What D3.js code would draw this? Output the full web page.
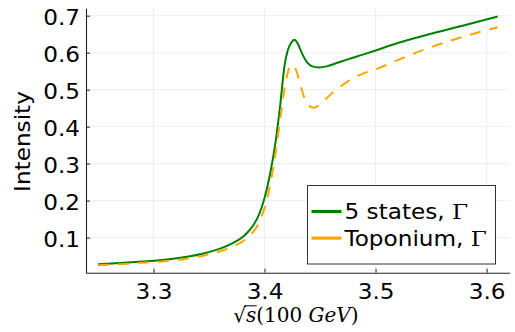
<!DOCTYPE html>
<html>
<head>
<meta charset="utf-8">
<script src="https://cdn.jsdelivr.net/npm/d3@7"></script>
<style>
  body { margin: 0; background: #fff; }
  svg text { font-family: "DejaVu Sans", sans-serif; fill: #000; }
  .grid line { stroke: #000; stroke-opacity: 0.09; stroke-width: 0.8; }
</style>
</head>
<body>
<div id="chart"></div>
<script>
// sqrt(s) in units of 100 GeV
const greenX = [3.25, 3.27, 3.29, 3.31, 3.33, 3.345, 3.36, 3.37, 3.38, 3.385, 3.39, 3.395, 3.40, 3.405,
    3.41, 3.414, 3.418, 3.421, 3.424, 3.427, 3.430, 3.434, 3.438, 3.443, 3.449, 3.456, 3.465, 3.475,
    3.49, 3.50, 3.52, 3.55, 3.58, 3.61];
const greenY = [0.028, 0.031, 0.035, 0.040, 0.048, 0.057, 0.070, 0.083, 0.101, 0.115, 0.134, 0.162, 0.207, 0.272,
    0.36, 0.455, 0.565, 0.607, 0.627, 0.635, 0.624, 0.596, 0.575, 0.563, 0.560, 0.563, 0.572, 0.582,
    0.596, 0.606, 0.626, 0.651, 0.674, 0.698];

const orangeX = [3.25, 3.27, 3.29, 3.31, 3.33, 3.345, 3.36, 3.37, 3.38, 3.385, 3.39, 3.395, 3.40, 3.405,
    3.41, 3.415, 3.419, 3.422, 3.425, 3.428, 3.431, 3.435, 3.439, 3.444, 3.449, 3.455, 3.462, 3.47,
    3.48, 3.49, 3.50, 3.52, 3.55, 3.58, 3.61];
const orangeY = [0.025, 0.028, 0.032, 0.036, 0.043, 0.051, 0.063, 0.074, 0.089, 0.100, 0.116, 0.140, 0.180, 0.242,
    0.33, 0.44, 0.52, 0.556, 0.567, 0.556, 0.528, 0.485, 0.460, 0.451, 0.457, 0.474, 0.494, 0.512,
    0.532, 0.545, 0.555, 0.580, 0.615, 0.644, 0.669];

const xTicks = [3.3, 3.4, 3.5, 3.6];
const yTicks = [0.1, 0.2, 0.3, 0.4, 0.5, 0.6, 0.7];
const seriesNames = ["5 states, ", "Toponium, "];
const seriesColors = ["#008000", "#ffa500"];

const width = 515, height = 332;
const margin = { left: 86, right: 5.3, top: 8.3, bottom: 59.3 };
const stretchK = 1.13;  // reference glyphs are wider than DejaVu at the same height

const svg = d3.select('#chart').append('svg')
    .attr('width', width)
    .attr('height', height);

const x = d3.scaleLinear()
    .domain([3.2392, 3.6208])
    .range([margin.left, width - margin.right]);
const y = d3.scaleLinear()
    .domain([0.005, 0.72])
    .range([height - margin.bottom, margin.top]);

function stretch(sel) {
    sel.each(function() {
        const t = d3.select(this);
        const x0 = +t.attr('x') || 0;
        t.attr('x', x0 / stretchK).attr('transform', `scale(${stretchK},1)`);
    });
}

// grid
const grid = svg.append('g').attr('class', 'grid');
grid.selectAll('line.gx').data(xTicks).enter().append('line')
    .attr('class', 'gx')
    .attr('x1', d => x(d)).attr('x2', d => x(d))
    .attr('y1', y.range()[0]).attr('y2', y.range()[1]);
grid.selectAll('line.gy').data(yTicks).enter().append('line')
    .attr('class', 'gy')
    .attr('x1', x.range()[0]).attr('x2', x.range()[1])
    .attr('y1', d => y(d)).attr('y2', d => y(d));

// axes (ticks pointing inward, like Plots.jl)
const xAxis = svg.append('g')
    .attr('transform', `translate(0,${y.range()[0]})`)
    .call(d3.axisBottom(x).tickValues(xTicks).tickSizeInner(-4).tickSizeOuter(0).tickPadding(12)
        .tickFormat(d3.format('.1f')));
const yAxis = svg.append('g')
    .attr('transform', `translate(${x.range()[0]},0)`)
    .call(d3.axisLeft(y).tickValues(yTicks).tickSizeInner(-4).tickSizeOuter(0).tickPadding(6)
        .tickFormat(d3.format('.1f')));

[xAxis, yAxis].forEach(a => {
    a.select('.domain').attr('stroke', '#222').attr('stroke-width', 1.1);
    a.selectAll('.tick line').attr('stroke', '#222').attr('stroke-width', 1);
    a.selectAll('.tick text').style('font-size', '20.5px').attr('fill', '#000').call(stretch);
});
xAxis.selectAll('.tick text').attr('dy', '0.71em');
yAxis.selectAll('.tick text').attr('dy', '0.45em');

// axis labels
svg.append('text')
    .attr('transform', `translate(30,${(y.range()[0] + y.range()[1]) / 2 + 1}) rotate(-90) scale(${stretchK},1)`)
    .attr('text-anchor', 'middle')
    .style('font-size', '20.5px')
    .text('Intensity');

const xl = svg.append('text')
    .attr('x', (x.range()[0] + x.range()[1]) / 2 - 2)
    .attr('y', 322)
    .attr('text-anchor', 'middle')
    .style('font-family', '"DejaVu Serif", serif')
    .style('font-size', '20px');
xl.append('tspan').text('√');
xl.append('tspan').style('font-style', 'italic').text('s');
xl.append('tspan').text('(100 ');
xl.append('tspan').style('font-style', 'italic').text('GeV');
xl.append('tspan').text(')');

// vinculum over the s
const rootBox = xl.node().getExtentOfChar(0);
const sBox = xl.node().getExtentOfChar(1);
svg.append('line')
    .attr('x1', rootBox.x + rootBox.width - 1.5)
    .attr('x2', sBox.x + sBox.width + 0.5)
    .attr('y1', 322 - 16.2).attr('y2', 322 - 16.2)
    .attr('stroke', '#000')
    .attr('stroke-width', 1);

// curves
const line = d3.line()
    .x(d => x(d[0]))
    .y(d => y(d[1]))
    .curve(d3.curveMonotoneX);

svg.append('path')
    .datum(greenX.map((v, i) => [v, greenY[i]]))
    .attr('fill', 'none')
    .attr('stroke', seriesColors[0])
    .attr('stroke-width', 2)
    .attr('d', line);

svg.append('path')
    .datum(orangeX.map((v, i) => [v, orangeY[i]]))
    .attr('fill', 'none')
    .attr('stroke', seriesColors[1])
    .attr('stroke-width', 2)
    .attr('stroke-dasharray', '11,9')
    .attr('d', line);

// legend
const legend = svg.append('g').attr('transform', 'translate(307.5,185.5)');
legend.append('rect')
    .attr('width', 188).attr('height', 78.5)
    .attr('fill', '#fff')
    .attr('stroke', '#333')
    .attr('stroke-width', 1);

seriesNames.forEach((name, i) => {
    const row = legend.append('g').attr('transform', `translate(0,${26 + i * 26.6})`);
    row.append('line')
        .attr('x1', 4).attr('x2', 34)
        .attr('stroke', seriesColors[i])
        .attr('stroke-width', 3.2);
    const t = row.append('text')
        .attr('x', 37)
        .attr('dy', '0.38em')
        .style('font-size', '20.5px');
    t.append('tspan').text(name);
    t.append('tspan').style('font-family', '"DejaVu Serif", serif').text('Γ');
    stretch(t);
});
</script>
</body>
</html>
